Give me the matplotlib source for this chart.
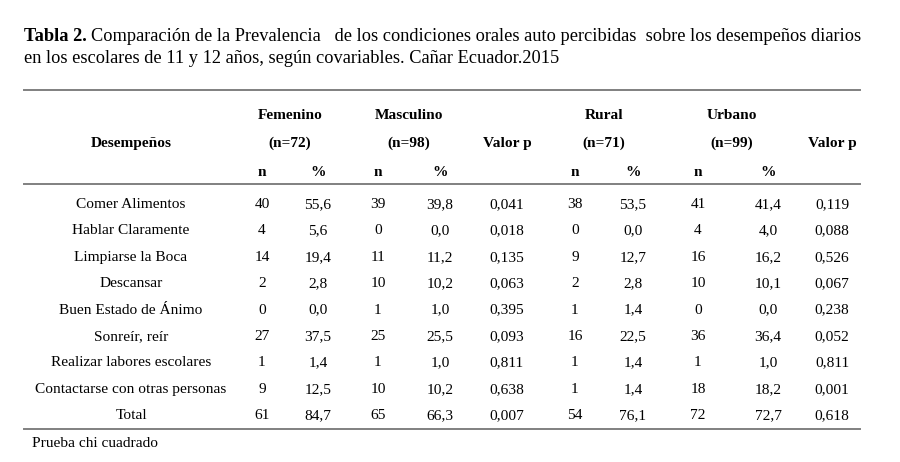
import matplotlib
matplotlib.use('Agg')
import matplotlib.pyplot as plt

plt.rcParams['font.family'] = ['Liberation Serif', 'DejaVu Serif']
plt.rcParams['text.hinting'] = 'force_autohint'

# table data
desempenos = ['Comer Alimentos', 'Hablar Claramente', 'Limpiarse la Boca', 'Descansar',
              'Buen Estado de Ánimo', 'Sonreír, reír', 'Realizar labores escolares',
              'Contactarse con otras personas', 'Total']
fem_n = ['40', '4', '14', '2', '0', '27', '1', '9', '61']
fem_pct = ['55,6', '5,6', '19,4', '2,8', '0,0', '37,5', '1,4', '12,5', '84,7']
masc_n = ['39', '0', '11', '10', '1', '25', '1', '10', '65']
masc_pct = ['39,8', '0,0', '11,2', '10,2', '1,0', '25,5', '1,0', '10,2', '66,3']
p_sexo = ['0,041', '0,018', '0,135', '0,063', '0,395', '0,093', '0,811', '0,638', '0,007']
rur_n = ['38', '0', '9', '2', '1', '16', '1', '1', '54']
rur_pct = ['53,5', '0,0', '12,7', '2,8', '1,4', '22,5', '1,4', '1,4', '76,1']
urb_n = ['41', '4', '16', '10', '0', '36', '1', '18', '72']
urb_pct = ['41,4', '4,0', '16,2', '10,1', '0,0', '36,4', '1,0', '18,2', '72,7']
p_zona = ['0,119', '0,088', '0,526', '0,067', '0,238', '0,052', '0,811', '0,001', '0,618']

columns = [desempenos, fem_n, fem_pct, masc_n, masc_pct, p_sexo,
           rur_n, rur_pct, urb_n, urb_pct, p_zona]
col_x = [131, 262, 318, 378, 440, 507, 575, 633, 698, 768, 832]

fig = plt.figure(figsize=(9, 4.62), dpi=100)
ax = fig.add_axes([0, 0, 1, 1])
ax.set_xlim(0, 900)
ax.set_ylim(462, 0)
ax.set_axis_off()

# title (baseline positions)
fs_title = 13.2
t1 = ax.text(24, 41, 'Tabla 2.', fontsize=fs_title, fontweight='bold',
             va='baseline', ha='left')
fig.canvas.draw()
bb = t1.get_window_extent()
x_end = ax.transData.inverted().transform((bb.x1, bb.y0))[0]
ax.text(x_end + 4, 41, 'Comparación de la Prevalencia   de los condiciones orales auto percibidas  '
        'sobre los desempeños diarios', fontsize=fs_title, va='baseline', ha='left')
ax.text(24, 63, 'en los escolares de 11 y 12 años, según covariables. Cañar Ecuador.2015',
        fontsize=fs_title, va='baseline', ha='left')

# rules
line_kw = dict(color='#808080', lw=1.4)
ax.plot([24, 860], [90, 90], **line_kw)
ax.plot([24, 860], [184, 184], **line_kw)
ax.plot([24, 860], [429, 429], **line_kw)

# header
fs = 11.1
off = 5  # baseline offset below the row centre
hkw = dict(fontsize=fs, fontweight='bold', ha='center', va='baseline')
ax.text(131, 142 + off, 'Desempeños', **hkw)
groups = [('Femenino', '(n=72)', 290), ('Masculino', '(n=98)', 409),
          ('Rural', '(n=71)', 604), ('Urbano', '(n=99)', 732)]
for name, n, gx in groups:
    ax.text(gx, 114 + off, name, **hkw)
    ax.text(gx, 142 + off, n, **hkw)
ax.text(507, 142 + off, 'Valor p', **hkw)
ax.text(832, 142 + off, 'Valor p', **hkw)
for i in [1, 3, 6, 8]:
    ax.text(col_x[i], 171 + off, 'n', **hkw)
    ax.text(col_x[i + 1], 171 + off, '%', **hkw)

# body
row_y0, row_dy = 203, 26.4
for ci, col in enumerate(columns):
    for ri, val in enumerate(col):
        ax.text(col_x[ci], row_y0 + ri * row_dy + off, val, fontsize=fs, ha='center',
                va='baseline')

ax.text(32, 442 + off, 'Prueba chi cuadrado', fontsize=fs, ha='left', va='baseline')

fig.savefig('out.png', dpi=100, facecolor='white')
